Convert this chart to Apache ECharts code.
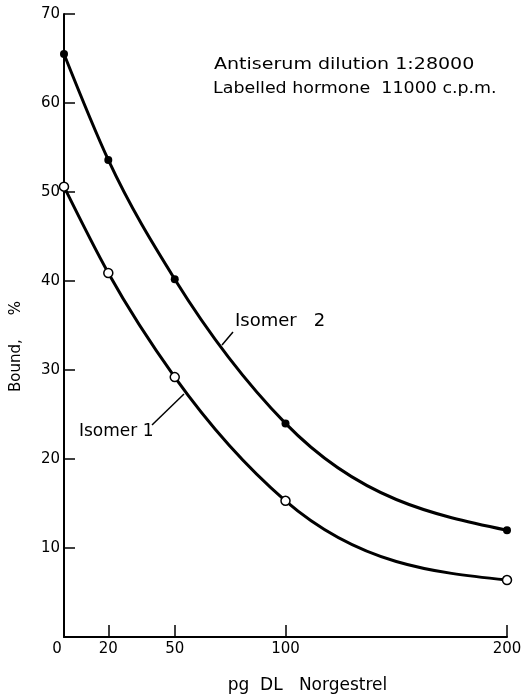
<!DOCTYPE html>
<html>
<head>
<meta charset="utf-8">
<script src="https://cdn.jsdelivr.net/npm/echarts@6/dist/echarts.min.js"></script>
<style>
html,body{margin:0;padding:0;background:#fff;}
#c{width:527px;height:695px;}
</style>
</head>
<body>
<div id="c"></div>
<script>
// Data
const doses = [0, 20, 50, 100, 200];            // pg DL Norgestrel
const isomer2 = [65.5, 53.6, 40.2, 24.0, 12.0]; // Bound % (filled dots)
const isomer1 = [50.6, 40.9, 29.2, 15.3, 6.4];  // Bound % (open circles)
const xTickValues = [0, 20, 50, 100, 200];
const yTickLabels = [0, 10, 20, 30, 40, 50, 60, 70];
const annotation = ['Antiserum dilution 1:28000', 'Labelled hormone  11000 c.p.m.'];

const FONT = 'DejaVu Sans';
const chart = echarts.init(document.getElementById('c'));

function pairs(xs, ys) { return xs.map((x, i) => [x, ys[i]]); }

// Smooth curve through the points (cubic Hermite in pixel space), drawn via api.coord
function curveSeries(name, xs, ys) {
  return {
    name: name, type: 'custom', data: pairs(xs, ys), z: 2, silent: true,
    renderItem: function (params, api) {
      if (params.dataIndex !== 0) return null;
      const p = xs.map((x, i) => api.coord([x, ys[i]]));
      const n = p.length;
      const h = [], d = [];
      for (let i = 0; i < n - 1; i++) {
        h.push(p[i + 1][0] - p[i][0]);
        d.push((p[i + 1][1] - p[i][1]) / h[i]);
      }
      const m = new Array(n);
      for (let i = 1; i < n - 1; i++) {
        m[i] = (h[i] * d[i - 1] + h[i - 1] * d[i]) / (h[i - 1] + h[i]);
      }
      m[0] = (3 * d[0] - m[1]) / 2;
      m[n - 1] = (3 * d[n - 2] - m[n - 2]) / 2;
      let path = 'M' + p[0][0] + ' ' + p[0][1];
      for (let i = 0; i < n - 1; i++) {
        const t = h[i] / 3;
        path += ' C' + (p[i][0] + t) + ' ' + (p[i][1] + m[i] * t) + ' ' +
          (p[i + 1][0] - t) + ' ' + (p[i + 1][1] - m[i + 1] * t) + ' ' +
          p[i + 1][0] + ' ' + p[i + 1][1];
      }
      return {
        type: 'path',
        shape: { pathData: path },
        style: { fill: null, stroke: '#000', lineWidth: 3 }
      };
    }
  };
}

chart.setOption({
  animation: false,
  backgroundColor: '#fff',
  grid: { left: 64, right: 20, top: 14, bottom: 58, containLabel: false, outerBoundsMode: 'none' },
  xAxis: {
    type: 'value', min: 0, max: 200,
    name: 'pg  DL   Norgestrel',
    nameLocation: 'middle', nameGap: 40,
    nameTextStyle: { fontFamily: FONT, fontSize: 17, color: '#000', padding: [0, 0, 0, 44] },
    axisLine: { lineStyle: { color: '#000', width: 2 } },
    axisTick: { show: true, inside: true, length: 12, customValues: xTickValues.slice(1), lineStyle: { color: '#000', width: 1.5 } },
    axisLabel: {
      customValues: xTickValues, margin: 5,
      fontFamily: FONT, fontSize: 15, color: '#000',
      formatter: v => v === 0 ? '{o|0}' : String(v),
      rich: { o: { fontFamily: FONT, fontSize: 15, color: '#000', padding: [0, 14, 0, 0] } }
    },
    splitLine: { show: false }
  },
  yAxis: {
    type: 'value', min: 0, max: 70, interval: 10,
    name: 'Bound,     %',
    nameLocation: 'middle', nameGap: 40, nameRotate: 90,
    nameTextStyle: { fontFamily: FONT, fontSize: 15, color: '#000', padding: [0, 42, 0, 0] },
    axisLine: { show: true, lineStyle: { color: '#000', width: 2 } },
    axisTick: { show: true, inside: true, length: 11, lineStyle: { color: '#000', width: 1.5 } },
    axisLabel: {
      margin: 4, fontFamily: FONT, fontSize: 15, color: '#000',
      formatter: v => (v === 0 ? '' : String(v))
    },
    splitLine: { show: false }
  },
  series: [
    curveSeries('Isomer 2 curve', doses, isomer2),
    curveSeries('Isomer 1 curve', doses, isomer1),
    {
      name: 'Isomer 2', type: 'scatter', data: pairs(doses, isomer2),
      symbol: 'circle', symbolSize: 8,
      itemStyle: { color: '#000', borderColor: '#000', borderWidth: 0, opacity: 1 },
      z: 4
    },
    {
      name: 'Isomer 1', type: 'scatter', data: pairs(doses, isomer1),
      symbol: 'circle', symbolSize: 9,
      itemStyle: { color: '#fff', borderColor: '#000', borderWidth: 1.5, opacity: 1 },
      z: 4
    }
  ],
  graphic: [
    { type: 'text', left: 214, top: 57, scaleX: 1.19, style: { text: annotation[0], fontFamily: FONT, fontSize: 16, fill: '#000' } },
    { type: 'text', left: 213, top: 81, scaleX: 1.09, style: { text: annotation[1], fontFamily: FONT, fontSize: 16, fill: '#000' } },
    { type: 'text', left: 235, top: 312, style: { text: 'Isomer   2', fontFamily: FONT, fontSize: 18, fill: '#000' } },
    { type: 'line', shape: { x1: 222, y1: 345, x2: 233, y2: 332 }, style: { stroke: '#000', lineWidth: 1.5 } },
    { type: 'text', left: 79, top: 423, style: { text: 'Isomer 1', fontFamily: FONT, fontSize: 17, fill: '#000' } },
    { type: 'line', shape: { x1: 152, y1: 425, x2: 184, y2: 394 }, style: { stroke: '#000', lineWidth: 1.5 } }
  ]
});
</script>
</body>
</html>
